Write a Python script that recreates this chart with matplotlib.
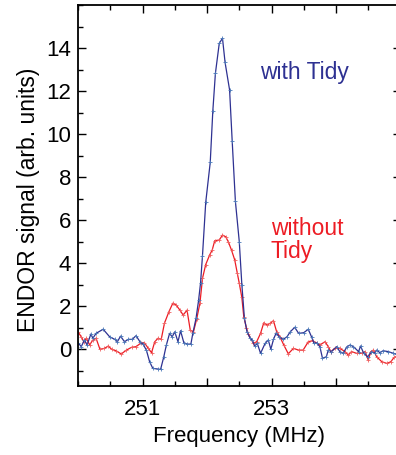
import matplotlib.pyplot as plt
from matplotlib.ticker import MultipleLocator

plt.rcParams['font.family'] = ['Liberation Sans', 'DejaVu Sans']

# ENDOR spectra: frequency (MHz) and signal (arb. units)
freq_tidy = [250.00, 250.05, 250.10, 250.14, 250.20, 250.23, 250.28, 250.39, 250.49, 250.57,
             250.61, 250.66, 250.72, 250.78, 250.84, 250.90, 250.96, 251.01, 251.06, 251.11,
             251.16, 251.24, 251.28, 251.33, 251.37, 251.42, 251.46, 251.50, 251.55, 251.59,
             251.64, 251.69, 251.75, 251.78, 251.83, 251.87, 251.90, 251.93, 251.98, 252.05,
             252.09, 252.13, 252.19, 252.24, 252.28, 252.35, 252.39, 252.44, 252.50, 252.54,
             252.58, 252.62, 252.67, 252.70, 252.74, 252.78, 252.83, 252.90, 252.95, 252.99,
             253.03, 253.07, 253.12, 253.18, 253.24, 253.29, 253.36, 253.42, 253.50, 253.57,
             253.62, 253.66, 253.70, 253.75, 253.79, 253.85, 253.88, 253.93, 254.01, 254.06,
             254.11, 254.17, 254.22, 254.27, 254.35, 254.38, 254.43, 254.49, 254.55, 254.60,
             254.63, 254.68, 254.73, 254.81, 254.89, 254.93]
sig_tidy = [0.30, 0.11, 0.42, 0.19, 0.70, 0.50, 0.73, 0.92, 0.57, 0.45,
            0.34, 0.60, 0.34, 0.45, 0.45, 0.62, 0.34, 0.22, -0.05, -0.59,
            -0.90, -0.93, -0.95, -0.36, 0.19, 0.73, 0.57, 0.80, 0.34, 0.85,
            0.30, 0.23, 0.23, 0.73, 1.43, 2.28, 3.08, 4.35, 6.82, 8.68,
            11.07, 12.82, 14.22, 14.45, 13.33, 12.05, 9.69, 6.87, 5.00, 3.00,
            1.43, 0.80, 0.50, 0.42, 0.14, 0.26, -0.20, 0.26, 0.42, -0.01,
            0.45, 0.73, 0.57, 0.45, 0.57, 0.80, 1.01, 0.73, 0.76, 0.92,
            0.57, 0.26, 0.29, 0.11, -0.43, -0.36, -0.05, -0.12, 0.11, -0.12,
            -0.20, 0.11, 0.19, 0.11, -0.12, 0.14, -0.20, -0.36, -0.12, -0.20,
            -0.05, -0.17, -0.08, -0.12, -0.20, -0.23]

freq_none = [250.00, 250.05, 250.09, 250.13, 250.18, 250.23, 250.28, 250.34, 250.41, 250.47,
             250.52, 250.59, 250.67, 250.75, 250.83, 250.90, 250.98, 251.03, 251.09, 251.14,
             251.19, 251.24, 251.29, 251.34, 251.41, 251.47, 251.52, 251.58, 251.63, 251.69,
             251.74, 251.79, 251.84, 251.89, 251.93, 251.98, 252.04, 252.08, 252.12, 252.19,
             252.24, 252.29, 252.33, 252.38, 252.43, 252.47, 252.50, 252.54, 252.57, 252.61,
             252.64, 252.72, 252.77, 252.83, 252.88, 252.93, 252.98, 253.03, 253.08, 253.13,
             253.19, 253.26, 253.34, 253.42, 253.49, 253.57, 253.64, 253.70, 253.75, 253.83,
             253.88, 253.92, 253.98, 254.06, 254.14, 254.19, 254.24, 254.32, 254.40, 254.45,
             254.50, 254.54, 254.58, 254.63, 254.71, 254.79, 254.85, 254.90, 254.93]
sig_none = [0.80, 0.57, 0.34, 0.50, 0.19, 0.42, 0.50, -0.01, 0.03, 0.14,
            -0.01, -0.08, -0.23, -0.05, 0.08, 0.11, 0.29, 0.29, 0.03, -0.17,
            0.34, 0.50, 0.45, 1.20, 1.74, 2.13, 2.05, 1.81, 1.58, 1.81,
            0.88, 0.80, 1.40, 2.13, 3.29, 3.93, 4.37, 4.60, 5.04, 5.07,
            5.30, 5.22, 4.99, 4.60, 4.14, 3.52, 3.06, 2.40, 1.50, 1.00,
            0.70, 0.26, 0.34, 0.73, 1.22, 1.12, 1.20, 1.32, 0.80, 0.57,
            0.19, -0.22, 0.03, -0.05, -0.05, 0.34, 0.39, 0.26, 0.19, 0.34,
            0.11, -0.12, 0.03, 0.03, -0.12, -0.28, -0.12, -0.20, -0.20, -0.12,
            -0.51, -0.12, -0.05, -0.36, -0.59, -0.67, -0.59, -0.39, -0.36]

BLUE = '#2e3192'
RED = '#ed1c24'

fig = plt.figure(figsize=(3.96, 4.55), dpi=100)
# right spine sits just past the figure edge, as in the original crop
ax = fig.add_axes([0.197, 0.1516, 0.8144, 0.8374])

ax.plot(freq_none, sig_none, color=RED, lw=0.9, marker='+', ms=3, mew=0.6, mec='#f06060')
ax.plot(freq_tidy, sig_tidy, color=BLUE, lw=0.9, marker='+', ms=3, mew=0.6, mec='#4a78b8')

ax.text(253.51, 12.84, 'with Tidy', color=BLUE, fontsize=16.5, ha='center', va='center')
ax.text(252.99, 5.05, 'without\nTidy', color=RED, fontsize=16.5, ha='left', va='center',
        linespacing=1.0)

ax.set_xlim(250, 255)
ax.set_ylim(-1.72, 16.0)
ax.set_xticks([251, 252, 253, 254])
ax.set_xticklabels(['251', '', '253', ''])
ax.xaxis.set_minor_locator(MultipleLocator(0.5))
ax.set_yticks(range(0, 15, 2))
ax.yaxis.set_minor_locator(MultipleLocator(1))

ax.tick_params(which='both', direction='in', top=True, right=True, labelsize=16, width=1.0)
ax.tick_params(which='major', length=6)
ax.tick_params(axis='x', which='major', pad=9)
ax.tick_params(axis='y', which='major', pad=5)
ax.tick_params(which='minor', length=3.5)
for s in ax.spines.values():
    s.set_linewidth(1.3)

ax.set_xlabel('Frequency (MHz)', fontsize=16)
ax.xaxis.set_label_coords(0.5, -0.105)
ax.set_ylabel('ENDOR signal (arb. units)', fontsize=16.5)
ax.yaxis.set_label_coords(-0.118, 0.49)

plt.savefig('out.png', dpi=100)
